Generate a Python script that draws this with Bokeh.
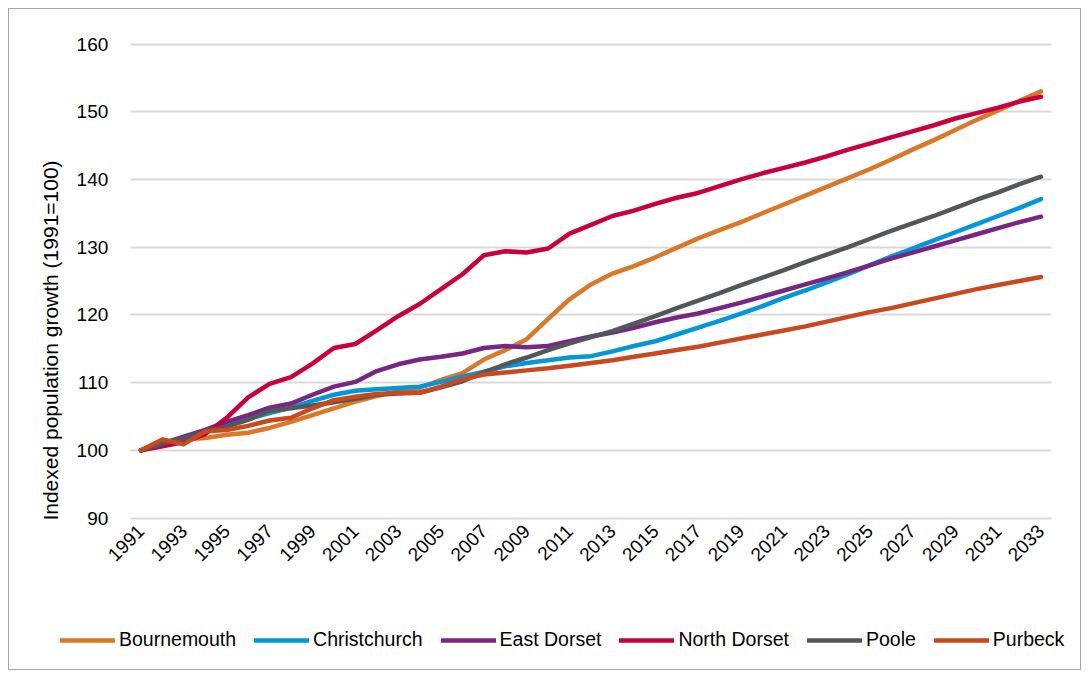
import math
from bokeh.plotting import figure
from bokeh.models import FixedTicker, Legend, LegendItem
from bokeh.embed import file_html
from bokeh.resources import INLINE

years = list(range(1991, 2034))

bournemouth = [100.0, 101.0, 101.6, 101.8, 102.3, 102.6, 103.3, 104.2, 105.2, 106.2,
               107.2, 108.0, 108.7, 109.2, 110.4, 111.4, 113.4, 114.8, 116.4, 119.4,
               122.3, 124.5, 126.1, 127.2, 128.5, 129.9, 131.3, 132.5, 133.7, 135.0,
               136.3, 137.6, 138.9, 140.2, 141.5, 142.9, 144.4, 145.8, 147.3, 148.8,
               150.2, 151.6, 153.0]
christchurch = [100.0, 101.0, 101.8, 102.8, 103.8, 104.6, 105.5, 106.3, 107.3, 108.2,
                108.8, 109.0, 109.2, 109.4, 110.1, 110.9, 111.6, 112.4, 112.9, 113.3,
                113.7, 113.9, 114.6, 115.4, 116.1, 117.1, 118.1, 119.1, 120.2, 121.3,
                122.5, 123.6, 124.8, 126.0, 127.3, 128.6, 129.8, 131.0, 132.2, 133.4,
                134.6, 135.8, 137.1]
east_dorset = [100.0, 101.0, 102.0, 103.0, 104.2, 105.2, 106.3, 106.9, 108.2, 109.4,
               110.1, 111.7, 112.7, 113.4, 113.8, 114.3, 115.1, 115.4, 115.2, 115.4,
               116.1, 116.8, 117.4, 118.1, 118.9, 119.6, 120.2, 121.0, 121.8, 122.7,
               123.6, 124.5, 125.4, 126.3, 127.3, 128.3, 129.2, 130.1, 131.0, 131.9,
               132.8, 133.7, 134.5]
north_dorset = [100.0, 100.6, 101.2, 102.4, 104.8, 107.8, 109.8, 110.8, 112.8, 115.1,
                115.7, 117.7, 119.8, 121.6, 123.8, 126.0, 128.8, 129.4, 129.2, 129.8,
                132.0, 133.3, 134.6, 135.4, 136.4, 137.3, 138.0, 139.0, 140.0, 140.9,
                141.7, 142.5, 143.4, 144.4, 145.3, 146.2, 147.1, 148.0, 149.0, 149.8,
                150.6, 151.5, 152.2]
poole = [100.0, 101.0, 101.8, 102.8, 103.5, 104.5, 105.8, 106.2, 106.6, 107.1,
         107.6, 108.2, 108.4, 108.5, 109.3, 110.2, 111.5, 112.7, 113.7, 114.8,
         115.8, 116.7, 117.6, 118.7, 119.8, 121.0, 122.1, 123.2, 124.4, 125.5,
         126.6, 127.8, 128.9, 130.0, 131.2, 132.4, 133.5, 134.6, 135.8, 137.0,
         138.1, 139.3, 140.4]
purbeck = [100.0, 101.6, 100.9, 102.8, 103.0, 103.6, 104.4, 104.8, 106.2, 107.4,
           107.9, 108.3, 108.5, 108.5, 109.4, 110.5, 111.2, 111.5, 111.8, 112.1,
           112.5, 112.9, 113.3, 113.8, 114.3, 114.8, 115.3, 115.9, 116.5, 117.1,
           117.7, 118.3, 119.0, 119.7, 120.4, 121.0, 121.7, 122.4, 123.1, 123.8,
           124.4, 125.0, 125.6]

series_names = ["Bournemouth", "Christchurch", "East Dorset", "North Dorset", "Poole", "Purbeck"]
series_values = [bournemouth, christchurch, east_dorset, north_dorset, poole, purbeck]
colors = ["#D97826", "#0098D8", "#782682", "#C8003C", "#53565A", "#C9481E"]
tick_years = list(range(1991, 2034, 2))
y_ticks = [90, 100, 110, 120, 130, 140, 150, 160]

FONT = "'Liberation Sans', Arial, sans-serif"

# canvas geometry (pixels inside the bordered box)
W, H = 1073, 662
X_FIRST_PX, X_LAST_PX = 131.5, 1031.5      # where first / last year sit
Y_TOP_PX, Y_BOT_PX = 34.5, 508.5           # where top / bottom tick sit

x0, x1 = years[0], years[-1]
xs = (X_LAST_PX - X_FIRST_PX) / (x1 - x0)
x_range = (x0 - X_FIRST_PX / xs, x1 + (W - X_LAST_PX) / xs)
y0, y1 = y_ticks[0], y_ticks[-1]
ys = (Y_BOT_PX - Y_TOP_PX) / (y1 - y0)
y_range = (y0 - (H - Y_BOT_PX) / ys, y1 + Y_TOP_PX / ys)

p = figure(width=W, height=H, output_backend="svg", toolbar_location=None,
           x_range=x_range, y_range=y_range,
           min_border_left=0, min_border_top=0, min_border_right=0, min_border_bottom=0)
p.styles = {"border": "1.5px solid #A6A6A6", "margin-left": "8px", "margin-top": "8px"}
p.outline_line_color = None
p.background_fill_color = "white"
p.border_fill_color = "white"

p.xgrid.grid_line_color = None
p.ygrid.grid_line_color = "#D9D9D9"
p.ygrid.grid_line_width = 2
p.ygrid.ticker = FixedTicker(ticks=y_ticks)
p.ygrid.cross_bounds = (x0 - 0.5, x1 + 0.5)

p.xaxis.fixed_location = y0
p.xaxis.ticker = FixedTicker(ticks=tick_years)
p.xaxis.major_label_orientation = math.pi / 4
p.xaxis.major_label_text_font = FONT
p.xaxis.major_label_text_font_size = "19px"
p.xaxis.major_label_text_color = "#000000"
p.xaxis.axis_line_color = None
p.xaxis.major_tick_line_color = None
p.xaxis.minor_tick_line_color = None
p.xaxis.major_tick_in = 0
p.xaxis.major_tick_out = 0
p.xaxis.major_label_standoff = 10

p.yaxis.fixed_location = x0 - 0.5
p.yaxis.ticker = FixedTicker(ticks=y_ticks)
p.yaxis.axis_label = "Indexed population growth (1991=100)"
p.yaxis.axis_label_text_font = FONT
p.yaxis.axis_label_text_font_size = "21px"
p.yaxis.axis_label_text_font_style = "normal"
p.yaxis.axis_label_text_color = "#000000"
p.yaxis.axis_label_standoff = 12
p.yaxis.major_label_text_font = FONT
p.yaxis.major_label_text_font_size = "19px"
p.yaxis.major_label_text_color = "#000000"
p.yaxis.axis_line_color = None
p.yaxis.major_tick_line_color = None
p.yaxis.minor_tick_line_color = None
p.yaxis.major_tick_in = 0
p.yaxis.major_tick_out = 0
p.yaxis.major_label_standoff = 22

items = []
for name, vals, col in zip(series_names, series_values, colors):
    r = p.line(years, vals, line_color=col, line_width=4.5, line_cap="round", line_join="round")
    items.append(LegendItem(label=name, renderers=[r]))

legend = Legend(items=items, orientation="horizontal", location=(51, 20),
                glyph_width=55, glyph_height=20, label_standoff=4, spacing=18,
                padding=0, margin=0, border_line_color=None, background_fill_alpha=0,
                label_text_font=FONT, label_text_font_size="19.5px", label_text_color="#000000")
p.add_layout(legend, "center")

open("out.html", "w").write(file_html(p, INLINE))
